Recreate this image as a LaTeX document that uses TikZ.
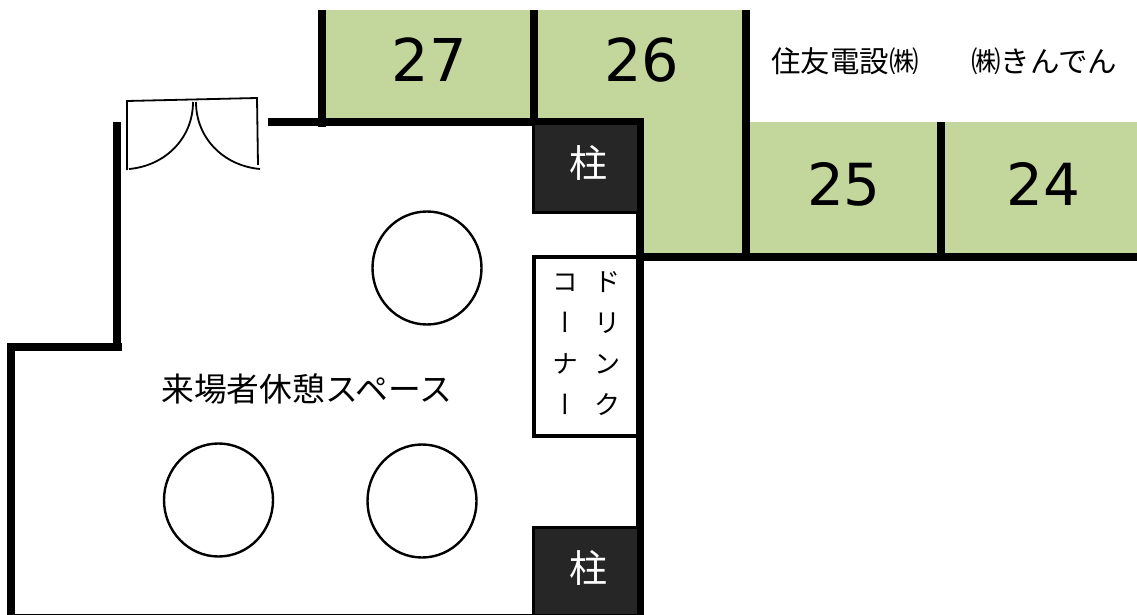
\documentclass[tikz,border=0pt]{standalone}
\usepackage{fontspec}
\usetikzlibrary{shapes.geometric}
\setmainfont{Noto Sans CJK JP}
\newfontfamily\numfont{DejaVu Sans}
\newfontfamily\tatefont[RawFeature=+vert]{Noto Sans CJK JP}
\definecolor{booth}{HTML}{C3D69B}
\definecolor{pillar}{HTML}{262626}
\tikzset{
    wall/.style={line width=8pt,black},
    boothnum/.style={font=\fontsize{59}{60}\selectfont\numfont,inner sep=0pt},
    boothsmall/.style={font=\fontsize{58}{58}\selectfont\numfont,inner sep=0pt},
    table/.style={draw,ellipse,line width=2.4pt,minimum width=109pt,minimum height=113pt,inner sep=0pt},
    pillarbox/.style={draw,line width=3pt,fill=pillar,inner sep=0pt,minimum width=105pt,minimum height=88pt},
    pillarname/.style={text=white,inner sep=0pt,font=\fontsize{38}{38}\selectfont},
    label/.style={font=\fontsize{29.5}{30}\selectfont,inner sep=0pt},
    door/.style={line width=1.8pt}
}
\begin{document}
\begin{tikzpicture}[x=1pt,y=-1pt]
    \useasboundingbox(0,0)rectangle(1137,615);

    \fill[booth](322,10)rectangle(745,122);
    \fill[booth](640,122)rectangle(1137,256);

    \node[boothnum]at(429.5,60){27};
    \node[boothnum]at(642,60){26};
    \node[boothsmall]at(844,184){25};
    \node[boothsmall]at(1043,184){24};

    \node[label]at(845,61){住友電設㈱};
    \node[label]at(1044,61){㈱きんでん};

    % walls
    \draw[wall](321.5,10)--(321.5,127);
    \draw[wall](534,10)--(534,122);
    \draw[wall](746,10)--(746,256);
    \draw[wall](941,122)--(941,256);
    \draw[wall](268,122)--(644,122);
    \draw[wall](640,122)--(640,615);
    \draw[wall](636,257)--(1137,257);
    \draw[wall](117,122)--(117,351);
    \draw[wall](7,347)--(122,347);
    \draw[wall](11,343)--(11,615);
    \draw[line width=1pt](15,614.5)--(533,614.5);

    % door
    \draw[door](127,170)--(127,101)--(257,98)--(258,165);
    \draw[door](193,102)to[out=270,in=5](129,169);
    \draw[door](196,102)to[out=270,in=175](260,169);

    \node[table](tableA)at(427,268){};
    \node[table](tableB)at(218.5,500){};
    \node[table](tableC)at(422,501){};

    \node[pillarbox](pillarA)at(585.5,168){};
    \node[pillarbox](pillarB)at(585.5,571){};
    \node[pillarname]at(588.5,163){柱};
    \node[pillarname]at(588.5,568){柱};

    \node[draw,line width=4pt,minimum width=104pt,minimum height=179pt,inner sep=0pt](drink)at(585.5,346.5){};
    \node[font=\fontsize{26}{41}\selectfont,align=center,inner sep=0pt]at(607,344){ド\\リ\\ン\\ク};
    \node[font=\fontsize{26}{41}\selectfont\tatefont,align=center,inner sep=0pt]at(565,344){コ\\ー\\ナ\\ー};
    \draw[wall](640,250)--(640,445);

    \node[label,font=\fontsize{32.8}{33}\selectfont]at(307,389){来場者休憩スペース};
\end{tikzpicture}
\end{document}
